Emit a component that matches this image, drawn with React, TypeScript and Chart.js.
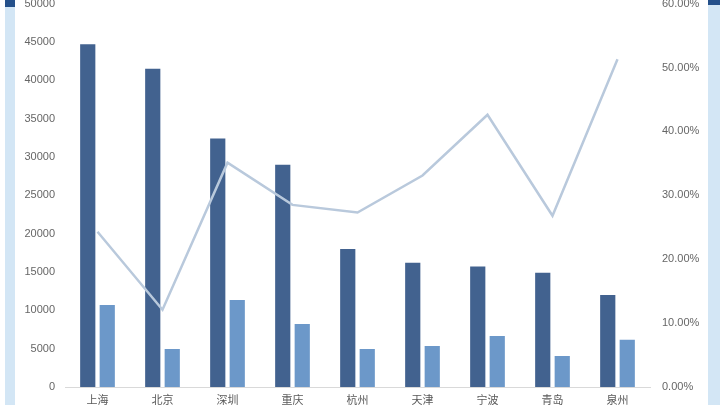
import { Chart, registerables } from 'chart.js';
import { useEffect, useRef } from 'react';

Chart.register(...registerables);

const cities = ['上海', '北京', '深圳', '重庆', '杭州', '天津', '宁波', '青岛', '泉州'];
const seriesA = [44700, 41500, 32400, 29000, 18000, 16200, 15700, 14900, 12000];
const seriesB = [10700, 4950, 11350, 8200, 4950, 5350, 6650, 4050, 6150];
const ratio = [0.243, 0.121, 0.351, 0.285, 0.273, 0.331, 0.426, 0.268, 0.513];
const leftTicks = [0, 5000, 10000, 15000, 20000, 25000, 30000, 35000, 40000, 45000, 50000];
const rightTicks = [0, 0.1, 0.2, 0.3, 0.4, 0.5, 0.6];

const font = { family: '"Liberation Sans", "Noto Sans CJK SC", sans-serif', size: 11 };

export default function App() {
  const chartRef = useRef(null);

  useEffect(() => {
    const canvas = chartRef.current as HTMLCanvasElement | null;
    if (!canvas) return;
    const chartInstance = new Chart(canvas, {
      type: 'bar',
      data: {
        labels: cities,
        datasets: [
          {
            type: 'line',
            data: ratio,
            yAxisID: 'y2',
            borderColor: '#b9c9dc',
            borderWidth: 2.5,
            pointRadius: 0,
            tension: 0,
            order: 0,
          },
          {
            data: seriesA,
            yAxisID: 'y',
            backgroundColor: '#42628f',
            barPercentage: 0.78,
            categoryPercentage: 0.6,
            order: 1,
          },
          {
            data: seriesB,
            yAxisID: 'y',
            backgroundColor: '#6c98c9',
            barPercentage: 0.78,
            categoryPercentage: 0.6,
            order: 1,
          },
        ],
      },
      options: {
        animation: false,
        responsive: false,
        maintainAspectRatio: false,
        layout: { padding: 0 },
        plugins: { legend: { display: false }, tooltip: { enabled: false } },
        scales: {
          x: {
            grid: { display: false, drawTicks: false },
            border: { color: '#d9d9d9', width: 1 },
            ticks: { color: '#595959', font, padding: 7 },
            afterFit: (s: any) => { s.height = 33; },
          },
          y: {
            position: 'left',
            min: 0,
            max: 50000,
            afterBuildTicks: (s: any) => { s.ticks = leftTicks.map((v) => ({ value: v })); },
            grid: { display: false, drawTicks: false },
            border: { display: false },
            ticks: { color: '#666666', font, padding: 10, callback: (v: any) => String(v) },
            afterFit: (s: any) => { s.width = 65; },
          },
          y2: {
            position: 'right',
            min: 0,
            max: 0.6,
            afterBuildTicks: (s: any) => { s.ticks = rightTicks.map((v) => ({ value: v })); },
            grid: { display: false, drawTicks: false },
            border: { display: false },
            ticks: {
              color: '#666666',
              font,
              padding: 12,
              callback: (v: any) => (Number(v) * 100).toFixed(2) + '%',
            },
            afterFit: (s: any) => { s.width = 70; },
          },
        },
      },
    });
    return () => {
      chartInstance.destroy();
    };
  }, []);

  return (
    <div style={{ position: 'fixed', left: 0, top: 0, width: 720, height: 405, overflow: 'hidden', background: '#fff' }}>
      <div style={{ position: 'absolute', left: 0, top: -15 }}>
        <canvas ref={chartRef} width={720} height={435} style={{ width: 720, height: 435 }}></canvas>
      </div>
      <div style={{ position: 'absolute', left: 5, top: 0, width: 10, height: 405, background: '#d3e6f5' }} />
      <div style={{ position: 'absolute', left: 5, top: 0, width: 10, height: 7, background: '#24508a' }} />
      <div style={{ position: 'absolute', left: 708, top: 0, width: 12, height: 405, background: '#d3e6f5' }} />
      <div style={{ position: 'absolute', left: 708, top: 0, width: 12, height: 5, background: '#24508a' }} />
    </div>
  );
}
